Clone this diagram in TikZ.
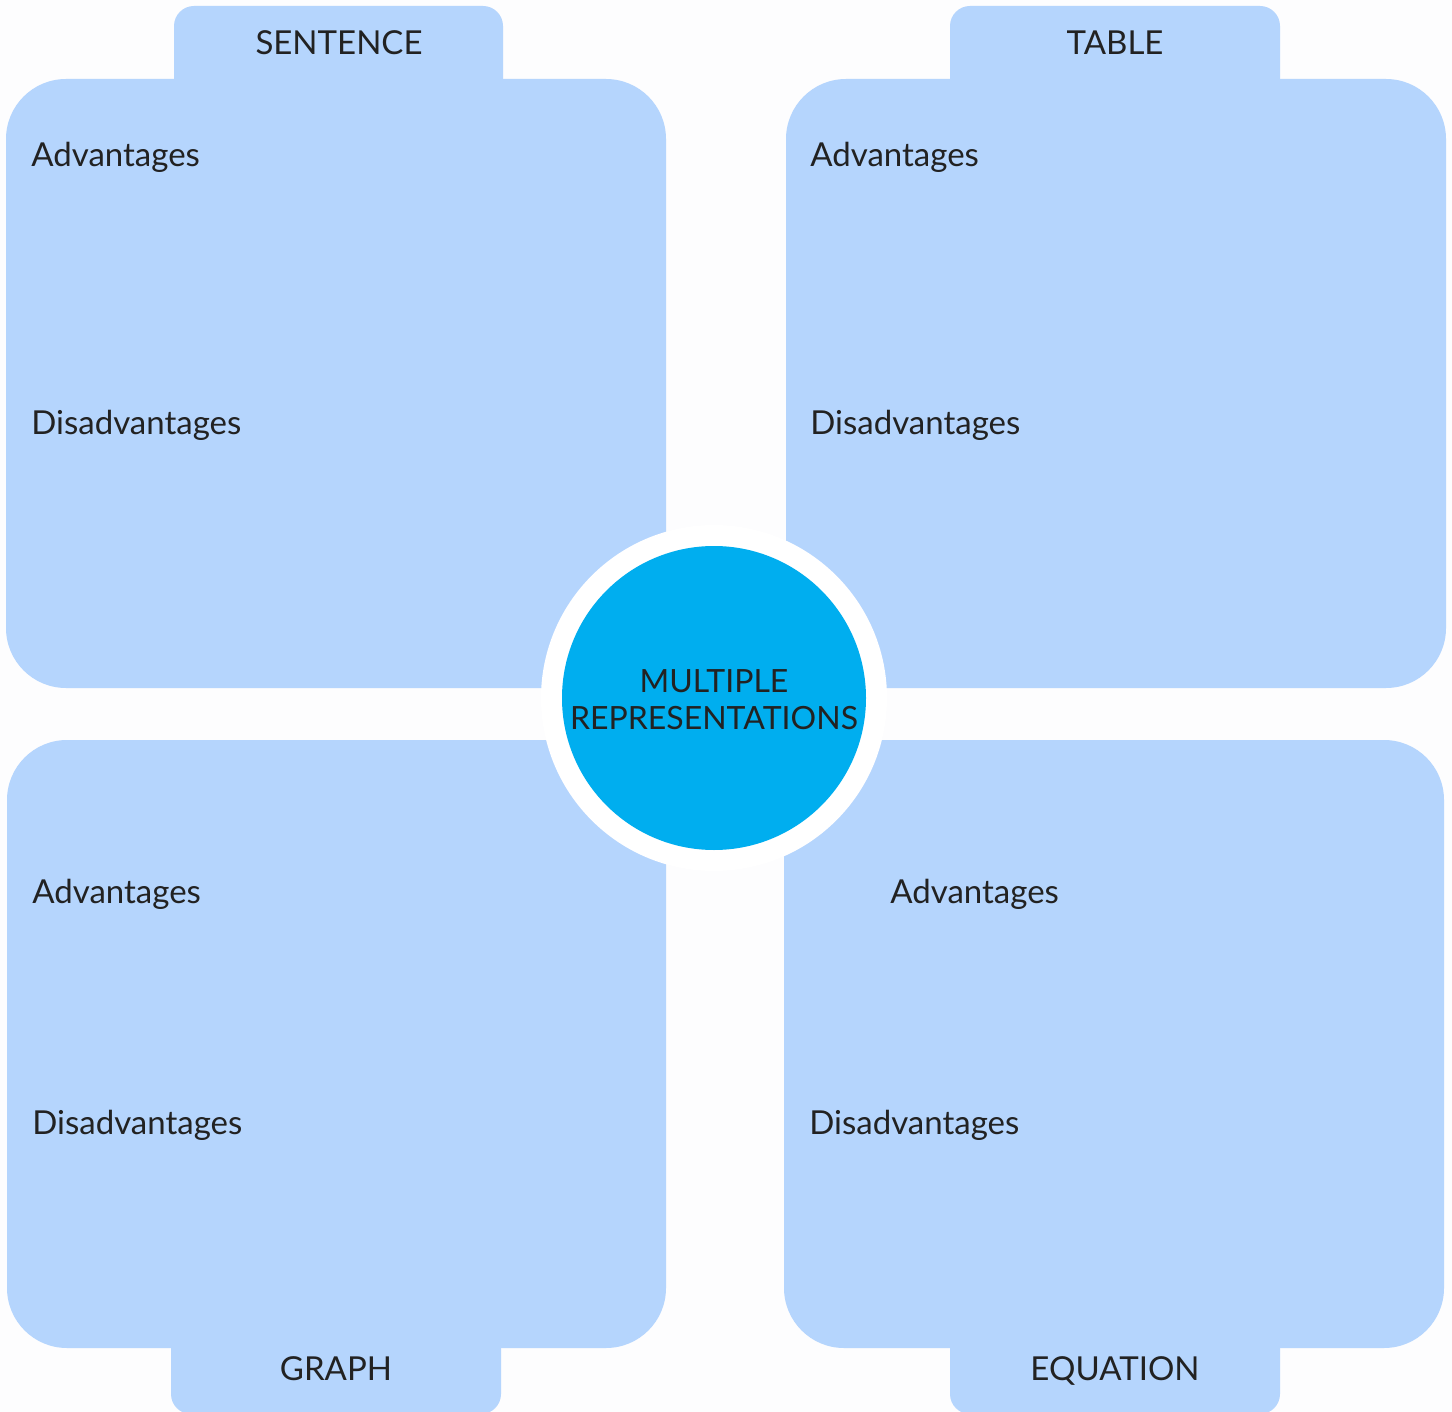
\documentclass[tikz,border=0pt]{standalone}
\usepackage{fontspec}
\setmainfont{Lato}
\definecolor{paper}{HTML}{FDFDFE}
\definecolor{panel}{HTML}{B5D5FD}
\definecolor{hub}{HTML}{00AEEF}
\definecolor{ink}{HTML}{222222}
\begin{document}
\begin{tikzpicture}[x=0.5pt,y=-0.5pt,
  panelbox/.style={fill=panel,rounded corners=30pt},
  tabbox/.style={fill=panel,rounded corners=10pt},
  lbl/.style={anchor=base west,inner sep=0pt,text=ink,font=\fontsize{16.5}{19}\selectfont},
  tablbl/.style={anchor=base,inner sep=0pt,text=ink,font=\fontsize{16.5}{19}\selectfont},
  hublbl/.style={anchor=base,inner sep=0pt,text=ink,font=\fontsize{16}{19}\selectfont}]
\useasboundingbox[fill=paper] (0,0) rectangle (1452,1412);

% tabs (drawn first, the panels cover their joined edge)
\fill[tabbox] (174,6) rectangle (503,110);
\fill[tabbox] (950,6) rectangle (1280,110);
\fill[tabbox] (171,1320) rectangle (501,1414);
\fill[tabbox] (950,1320) rectangle (1280,1414);

% four panels
\fill[panelbox] (6,79) rectangle (666,688);
\fill[panelbox] (786,79) rectangle (1446,688);
\fill[panelbox] (7,740) rectangle (666,1348);
\fill[panelbox] (784,740) rectangle (1444,1348);

% central hub with its white ring
\fill[white] (714,698) circle[radius=173];
\node[circle,fill=hub,minimum size=152pt,inner sep=0pt] (hub) at (714,698) {};
\node[hublbl] (multi) at (714,692) {MULTIPLE};
\node[hublbl] (repr) at (714,729) {REPRESENTATIONS};

% tab titles
\node[tablbl] (sentence) at (339,55) {SENTENCE};
\node[tablbl] (table) at (1115,55) {TABLE};
\node[tablbl] (graph) at (336,1380) {GRAPH};
\node[tablbl] (equation) at (1115,1380) {EQUATION};

% panel contents
\node[lbl] (sadv) at (31,167) {Advantages};
\node[lbl] (sdis) at (31,435) {Disadvantages};
\node[lbl] (tadv) at (810,167) {Advantages};
\node[lbl] (tdis) at (810,435) {Disadvantages};
\node[lbl] (gadv) at (32,903) {Advantages};
\node[lbl] (gdis) at (32,1134) {Disadvantages};
\node[lbl] (eadv) at (890,903) {Advantages};
\node[lbl] (edis) at (809,1134) {Disadvantages};
\end{tikzpicture}
\end{document}
